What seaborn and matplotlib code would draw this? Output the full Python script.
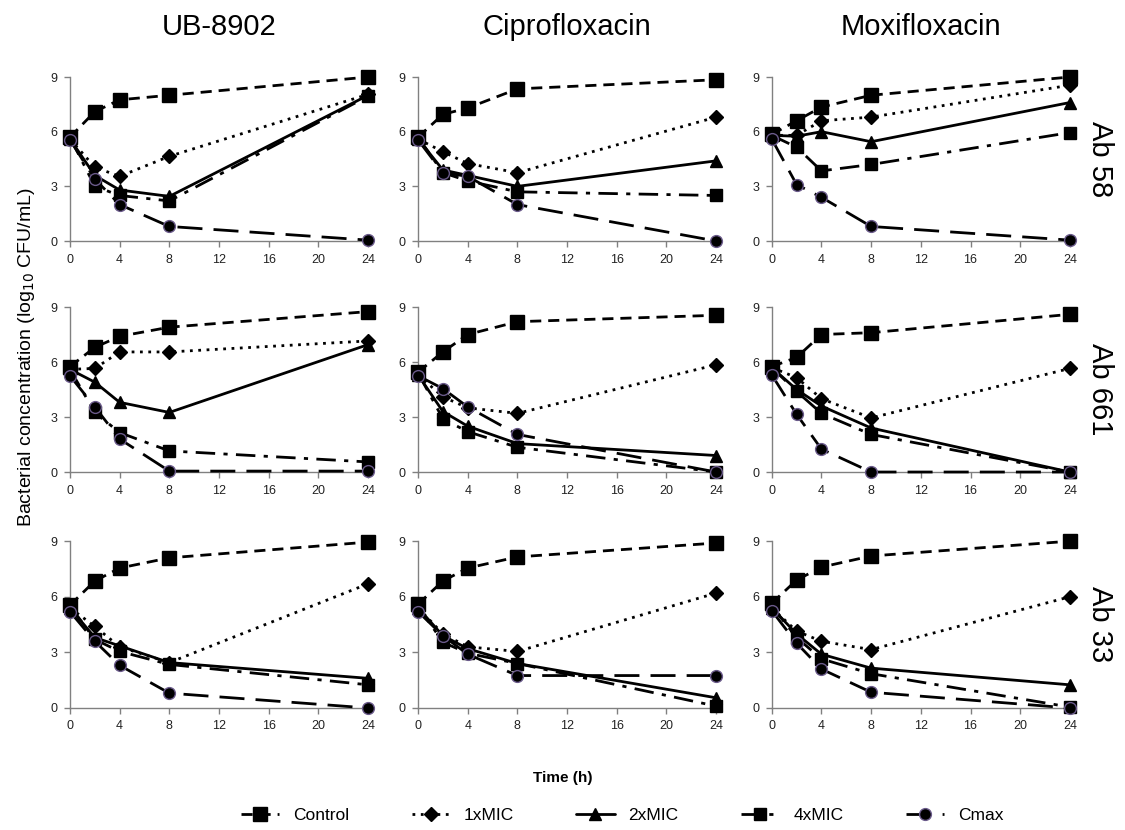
import numpy as np
import pandas as pd
import matplotlib
matplotlib.use("Agg")
import matplotlib.pyplot as plt
import seaborn as sns
from matplotlib.lines import Line2D

sns.set_style("white")
plt.rcParams["font.family"] = ["Liberation Sans", "DejaVu Sans"]
plt.rcParams["text.color"] = "black"

# time points (h)
times = [0, 2, 4, 8, 24]
drugs = ["UB-8902", "Ciprofloxacin", "Moxifloxacin"]
strains = ["Ab 58", "Ab 661", "Ab 33"]
series = ["Control", "1xMIC", "2xMIC", "4xMIC", "Cmax"]

# log10 CFU/mL; [strain][drug][series]
ab58_ub = [[5.7, 7.1, 7.75, 8.0, 9.0],
           [5.6, 4.05, 3.55, 4.65, 8.05],
           [5.6, 3.6, 2.8, 2.45, 8.0],
           [5.7, 3.0, 2.5, 2.2, 7.95],
           [5.55, 3.4, 2.0, 0.8, 0.05]]
ab58_cip = [[5.7, 6.95, 7.3, 8.35, 8.85],
            [5.6, 4.9, 4.25, 3.75, 6.8],
            [5.6, 3.9, 3.6, 3.0, 4.4],
            [5.7, 3.75, 3.3, 2.7, 2.5],
            [5.55, 3.75, 3.55, 2.0, 0.0]]
ab58_mox = [[5.85, 6.6, 7.35, 8.0, 9.0],
            [5.8, 5.8, 6.6, 6.8, 8.55],
            [5.8, 5.75, 6.0, 5.45, 7.6],
            [5.8, 5.15, 3.85, 4.2, 5.95],
            [5.6, 3.1, 2.4, 0.8, 0.05]]
ab661_ub = [[5.75, 6.8, 7.4, 7.9, 8.75],
            [5.6, 5.65, 6.55, 6.55, 7.15],
            [5.6, 4.9, 3.8, 3.25, 6.95],
            [5.6, 3.25, 2.15, 1.15, 0.55],
            [5.25, 3.55, 1.8, 0.05, 0.05]]
ab661_cip = [[5.45, 6.55, 7.5, 8.2, 8.55],
             [5.3, 4.1, 3.5, 3.2, 5.85],
             [5.3, 3.3, 2.5, 1.55, 0.9],
             [5.4, 2.9, 2.2, 1.35, 0.0],
             [5.25, 4.55, 3.55, 2.05, 0.0]]
ab661_mox = [[5.75, 6.25, 7.5, 7.6, 8.6],
             [5.7, 5.15, 4.0, 2.95, 5.65],
             [5.7, 4.5, 3.6, 2.4, 0.0],
             [5.7, 4.4, 3.2, 2.05, 0.0],
             [5.3, 3.15, 1.25, 0.0, 0.0]]
ab33_ub = [[5.55, 6.85, 7.55, 8.1, 8.95],
           [5.4, 4.4, 3.3, 2.45, 6.7],
           [5.4, 3.8, 3.35, 2.45, 1.6],
           [5.5, 3.7, 3.05, 2.35, 1.25],
           [5.2, 3.6, 2.3, 0.8, 0.0]]
ab33_cip = [[5.6, 6.85, 7.55, 8.15, 8.9],
            [5.4, 4.0, 3.3, 3.05, 6.2],
            [5.4, 3.9, 3.2, 2.4, 0.55],
            [5.5, 3.55, 2.95, 2.4, 0.1],
            [5.2, 3.9, 2.9, 1.75, 1.75]]
ab33_mox = [[5.65, 6.9, 7.6, 8.2, 9.0],
            [5.4, 4.15, 3.6, 3.15, 6.0],
            [5.4, 4.0, 2.9, 2.15, 1.25],
            [5.5, 3.8, 2.65, 1.85, 0.05],
            [5.25, 3.5, 2.1, 0.85, 0.0]]

panels = [[ab58_ub, ab58_cip, ab58_mox],
          [ab661_ub, ab661_cip, ab661_mox],
          [ab33_ub, ab33_cip, ab33_mox]]

rows = []
for i, strain in enumerate(strains):
    for j, drug in enumerate(drugs):
        for k, s in enumerate(series):
            for t, v in zip(times, panels[i][j][k]):
                rows.append({"strain": strain, "drug": drug, "series": s, "time": t, "cfu": v})
df = pd.DataFrame(rows)

styles = {
    "Control": dict(marker="s", ls=(0, (4, 2.5)), ms=9.5, mec="black"),
    "1xMIC": dict(marker="D", ls=(0, (1, 2)), ms=7, mec="black"),
    "2xMIC": dict(marker="^", ls="-", ms=9, mec="black"),
    "4xMIC": dict(marker="s", ls=(0, (7, 3, 1.5, 3)), ms=8.5, mec="black"),
    "Cmax": dict(marker="o", ls=(0, (9, 4)), ms=8.5, mec="#6a5a8a"),
}

fig = plt.figure(figsize=(11.25, 8.3), dpi=100)
lefts = [0.0622, 0.3716, 0.686]
bottoms = [0.7096, 0.4313, 0.147]
heights = [0.1976, 0.1988, 0.201]
width = 0.265

for i, strain in enumerate(strains):
    for j, drug in enumerate(drugs):
        ax = fig.add_axes([lefts[j], bottoms[i], width, heights[i]])
        sub = df[(df.strain == strain) & (df.drug == drug)]
        for s in series:
            st = styles[s]
            sns.lineplot(data=sub[sub.series == s], x="time", y="cfu", ax=ax,
                         color="black", linewidth=2, marker=st["marker"],
                         linestyle=st["ls"], markersize=st["ms"],
                         markeredgecolor=st["mec"], markeredgewidth=1,
                         clip_on=False, zorder=3)
        ax.set_xlim(0, 24)
        ax.set_ylim(0, 9)
        ax.set_xticks(range(0, 25, 4))
        ax.set_yticks([0, 3, 6, 9])
        ax.set_xlabel("")
        ax.set_ylabel("")
        sns.despine(ax=ax)
        for sp in ["left", "bottom"]:
            ax.spines[sp].set_color("#808080")
            ax.spines[sp].set_linewidth(1)
        ax.tick_params(axis="both", which="both", direction="out", length=4,
                       width=1, color="#808080", labelsize=9, labelcolor="#222222",
                       left=True, bottom=True, pad=5)
        if i == 0:
            fig.text(lefts[j] + width / 2, 0.967, drug, fontsize=21,
                     ha="center", va="center")
        if j == 2:
            ax.text(1.1, 0.5, strain, transform=ax.transAxes, rotation=-90,
                    fontsize=21, va="center", ha="center")

fig.text(0.024, 0.57, "Bacterial concentration (log$_{10}$ CFU/mL)", rotation=90,
         fontsize=14, va="center", ha="center")
fig.text(0.5, 0.063, "Time (h)", fontsize=11, fontweight="bold", ha="center", va="center")

handles = []
for s in series:
    st = styles[s]
    handles.append(Line2D([0], [0], color="black", lw=2, ls=st["ls"], marker=st["marker"],
                          ms=st["ms"], mec=st["mec"]))
fig.legend(handles, series, loc="center", bbox_to_anchor=(0.553, 0.018), ncol=5,
           frameon=False, fontsize=12.5, handlelength=2.2, columnspacing=3.6)

fig.savefig("out.png", dpi=100)
